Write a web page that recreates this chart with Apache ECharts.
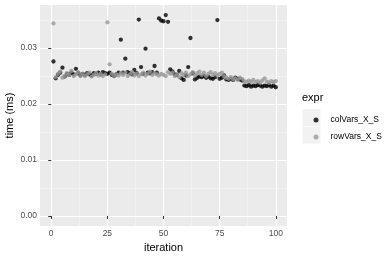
<!DOCTYPE html>
<html>
<head>
<meta charset="utf-8">
<script src="https://cdn.jsdelivr.net/npm/echarts@6/dist/echarts.min.js"></script>
<style>html,body{margin:0;padding:0;background:#fff}#c{width:390px;height:260px}</style>
</head>
<body>
<div id="c"></div>
<script>
const iterations = [1,2,3,4,5,6,7,8,9,10,11,12,13,14,15,16,17,18,19,20,21,22,23,24,25,26,27,28,29,30,31,32,33,34,35,36,37,38,39,40,41,42,43,44,45,46,47,48,49,50,51,52,53,54,55,56,57,58,59,60,61,62,63,64,65,66,67,68,69,70,71,72,73,74,75,76,77,78,79,80,81,82,83,84,85,86,87,88,89,90,91,92,93,94,95,96,97,98,99,100];
const seriesNames = ["colVars_X_S", "rowVars_X_S"];
const colVarsTime = [0.0276,0.0246,0.0252,0.0256,0.0265,0.0249,0.0254,0.0252,0.0256,0.0253,0.0263,0.0255,0.0251,0.0254,0.0252,0.0255,0.0253,0.0251,0.0255,0.0254,0.0256,0.0253,0.0257,0.0255,0.0254,0.0256,0.0252,0.0250,0.0253,0.0256,0.0315,0.0256,0.0281,0.0257,0.0255,0.0253,0.0261,0.0255,0.0351,0.0266,0.0254,0.0299,0.0256,0.0255,0.0257,0.0268,0.0256,0.0353,0.0349,0.0348,0.0359,0.0347,0.0262,0.0258,0.0253,0.0252,0.0259,0.0246,0.0243,0.0251,0.0266,0.0318,0.0255,0.0244,0.0247,0.0249,0.0248,0.0250,0.0247,0.0249,0.0246,0.0245,0.0248,0.0350,0.0245,0.0247,0.0251,0.0244,0.0243,0.0245,0.0243,0.0247,0.0245,0.0244,0.0242,0.0233,0.0232,0.0234,0.0231,0.0233,0.0232,0.0234,0.0233,0.0231,0.0233,0.0232,0.0234,0.0231,0.0233,0.0230];
const rowVarsTime = [0.0344,0.0248,0.0254,0.0258,0.0247,0.0250,0.0255,0.0252,0.0259,0.0250,0.0253,0.0257,0.0251,0.0254,0.0250,0.0253,0.0256,0.0249,0.0252,0.0255,0.0251,0.0254,0.0250,0.0253,0.0346,0.0271,0.0254,0.0250,0.0253,0.0251,0.0255,0.0252,0.0256,0.0250,0.0253,0.0257,0.0251,0.0254,0.0250,0.0253,0.0256,0.0251,0.0254,0.0258,0.0252,0.0255,0.0253,0.0251,0.0254,0.0252,0.0250,0.0257,0.0254,0.0256,0.0250,0.0253,0.0248,0.0255,0.0252,0.0256,0.0250,0.0253,0.0257,0.0251,0.0255,0.0258,0.0252,0.0256,0.0250,0.0254,0.0257,0.0252,0.0255,0.0251,0.0254,0.0256,0.0250,0.0247,0.0245,0.0248,0.0244,0.0246,0.0243,0.0247,0.0245,0.0241,0.0239,0.0242,0.0240,0.0243,0.0239,0.0241,0.0238,0.0242,0.0246,0.0240,0.0238,0.0241,0.0239,0.0241];
const xTicks = [0, 25, 50, 75, 100];
const xMinor = [12.5, 37.5, 62.5, 87.5];
const yTicks = [0, 0.01, 0.02, 0.03];
const yMinor = [0.005, 0.015, 0.025, 0.035];
const xTitle = 'iteration';
const yTitle = 'time (ms)';
const legendTitle = 'expr';

const FONT = "Liberation Sans, Arial, sans-serif";
const pair = (xs, ys) => xs.map((x, i) => [x, ys[i]]);

const chart = echarts.init(document.getElementById('c'), null, {renderer: 'canvas'});
const GL = 40, GT = 5, GW = 247, GH = 221;
chart.setOption({
  animation: false,
  textStyle: {fontFamily: FONT},
  grid: {left: GL, top: GT, width: GW, height: GH, show: true, backgroundColor: '#ebebeb', borderWidth: 0,
         containLabel: false, outerBoundsMode: 'none'},
  xAxis: [
    {type: 'value', min: -5, max: 105, position: 'bottom',
     name: xTitle, nameLocation: 'middle', nameGap: 16,
     nameTextStyle: {color: '#000', fontSize: 11, fontFamily: FONT},
     axisLine: {show: false},
     axisTick: {show: true, customValues: xTicks, length: 3, lineStyle: {color: '#333', width: 1}},
     axisLabel: {customValues: xTicks, color: '#4d4d4d', fontSize: 8.5, margin: 3, fontFamily: FONT},
     splitLine: {show: true, lineStyle: {color: '#ffffff', width: 1.1}},
     z: 2},
    {type: 'value', min: -5, max: 105, position: 'bottom', gridIndex: 0,
     axisLine: {show: false},
     axisTick: {show: false, customValues: xMinor},
     axisLabel: {show: false, customValues: xMinor},
     splitLine: {show: true, lineStyle: {color: '#f7f7f7', width: 0.55}},
     z: 1}
  ],
  yAxis: [
    {type: 'value', min: -0.0018, max: 0.0377, position: 'left',
     axisLine: {show: false},
     axisTick: {show: true, customValues: yTicks, length: 3, lineStyle: {color: '#333', width: 1}},
     axisLabel: {customValues: yTicks, color: '#4d4d4d', fontSize: 8.5, margin: 3, fontFamily: FONT,
                 formatter: v => v.toFixed(2)},
     splitLine: {show: true, lineStyle: {color: '#ffffff', width: 1.1}},
     z: 2},
    {type: 'value', min: -0.0018, max: 0.0377, position: 'left',
     axisLine: {show: false},
     axisTick: {show: false, customValues: yMinor},
     axisLabel: {show: false, customValues: yMinor},
     splitLine: {show: true, lineStyle: {color: '#f7f7f7', width: 0.55}},
     z: 1}
  ],
  legend: {
    orient: 'vertical', left: 308.5, top: 110, itemWidth: 5, itemHeight: 5, itemGap: 7,
    icon: 'circle',
    data: seriesNames,
    textStyle: {color: '#000', fontSize: 8.5, fontFamily: FONT, padding: [0, 0, 0, 7], lineHeight: 10}
  },
  graphic: [
    {type: 'rect', left: 302.5, top: 109, shape: {width: 18, height: 17}, style: {fill: '#f2f2f2'}, z: -1},
    {type: 'rect', left: 302.5, top: 126.5, shape: {width: 18, height: 17}, style: {fill: '#f2f2f2'}, z: -1},
    {type: 'text', left: 302, top: 92, style: {text: legendTitle, fill: '#000', fontSize: 11, fontFamily: FONT}},
    {type: 'text', x: 10, y: 115.5, rotation: Math.PI / 2,
     style: {text: yTitle, fill: '#000', fontSize: 11, fontFamily: FONT, align: 'center', verticalAlign: 'middle'}}
  ],
  series: [
    {name: seriesNames[0], type: 'scatter', xAxisIndex: 0, yAxisIndex: 0, symbolSize: 4.3,
     itemStyle: {color: '#000000'}, data: pair(iterations, colVarsTime)},
    {name: seriesNames[1], type: 'scatter', xAxisIndex: 0, yAxisIndex: 0, symbolSize: 4.3,
     itemStyle: {color: '#999999'}, data: pair(iterations, rowVarsTime)}
  ]
});
</script>
</body>
</html>
